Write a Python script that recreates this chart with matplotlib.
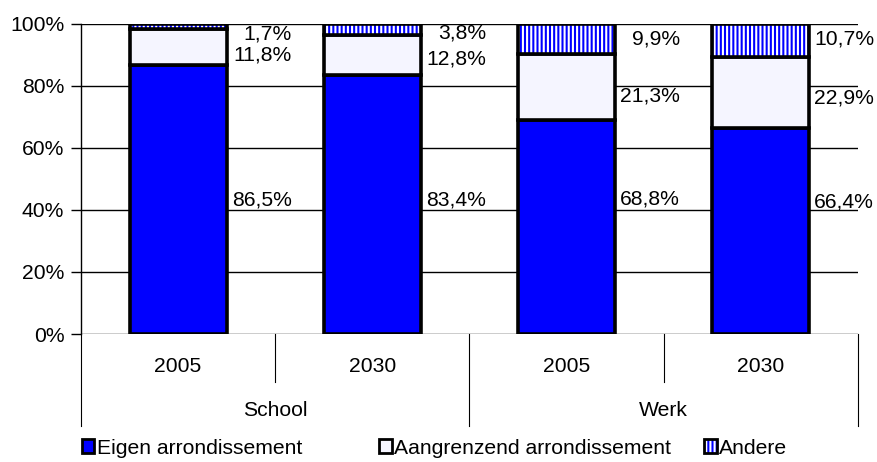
import matplotlib
matplotlib.use("Agg")
import matplotlib.pyplot as plt
from matplotlib.patches import Patch
import numpy as np

plt.rcParams['font.family'] = ['Liberation Sans', 'DejaVu Sans']
plt.rcParams['hatch.linewidth'] = 1.5

# Data
groups = ["School", "Werk"]
years = ["2005", "2030", "2005", "2030"]
eigen = [86.5, 83.4, 68.8, 66.4]
aangrenzend = [11.8, 12.8, 21.3, 22.9]
andere = [1.7, 3.8, 9.9, 10.7]
series_names = ["Eigen arrondissement", "Aangrenzend arrondissement", "Andere"]
yticks = [0, 20, 40, 60, 80, 100]

# Vertical anchor (in %) of each value label, per bar: [eigen, aangrenzend, andere]
label_anchor = [[43.2, 90.0, 96.6],
                [43.2, 88.6, 96.9],
                [43.5, 76.8, 95.0],
                [42.5, 76.0, 95.0]]

BLUE = "#0000FF"
LIGHT = "#F5F5FF"
EDGE_W = 2.6
FS = 15.2

fig = plt.figure(figsize=(8.77, 4.62), dpi=100)
ax = fig.add_axes([0.0924, 0.277, 0.8856, 0.672])

x = np.arange(len(years))
w = 0.5
eig = np.array(eigen)
aan = np.array(aangrenzend)
andr = np.array(andere)

ax.bar(x, eig, w, color=BLUE, edgecolor="black", linewidth=EDGE_W, zorder=3)
ax.bar(x, aan, w, bottom=eig, color=LIGHT, edgecolor="black", linewidth=EDGE_W, zorder=3)
# striped segment: white vertical stripes on blue, then a black outline on top
ax.bar(x, andr, w, bottom=eig + aan, color=BLUE, edgecolor="white", hatch="||||",
       linewidth=0, zorder=3)
ax.bar(x, andr, w, bottom=eig + aan, facecolor="none", edgecolor="black",
       linewidth=EDGE_W, zorder=4)

ax.set_xlim(-0.5, len(years) - 0.5)
ax.set_ylim(0, 100)
ax.set_yticks(yticks)
ax.set_yticklabels([f"{t}%" for t in yticks], fontsize=FS)
ax.tick_params(axis="y", length=7, width=1, color="black", pad=5)
ax.set_xticks([])
for t in yticks:
    ax.axhline(t, color="black", linewidth=1, zorder=1)

for s in ["top", "right", "bottom"]:
    ax.spines[s].set_visible(False)
ax.spines["left"].set_linewidth(1)

# value labels, right-aligned to the right of each bar
for i in range(len(years)):
    vals = [eigen[i], aangrenzend[i], andere[i]]
    for v, ya in zip(vals, label_anchor[i]):
        ax.text(x[i] + 0.585, ya, f"{v:.1f}%".replace(".", ","), ha="right",
                va="center", fontsize=FS, zorder=5)

# category axis: year labels, group labels and separators
trans = ax.get_xaxis_transform()
for i, yr in enumerate(years):
    ax.text(x[i], -0.103, yr, ha="center", va="center", fontsize=FS, transform=trans)
for g, name in enumerate(groups):
    ax.text(2 * g + 0.5, -0.245, name, ha="center", va="center", fontsize=FS, transform=trans)
for xs in [0.5, 2.5]:
    ax.plot([xs, xs], [0, -0.155], color="black", linewidth=0.8, transform=trans, clip_on=False)
for xs in [-0.5, 1.5, 3.5]:
    ax.plot([xs, xs], [0, -0.296], color="black", linewidth=0.8, transform=trans, clip_on=False)

# legend entries
handles = [
    Patch(facecolor=BLUE, edgecolor="black", linewidth=2.0),
    Patch(facecolor=LIGHT, edgecolor="black", linewidth=2.0),
    Patch(facecolor=BLUE, edgecolor="white", hatch="||||", linewidth=0),
]
leg_x = [0.093, 0.432, 0.803]
for h, name, lx in zip(handles, series_names, leg_x):
    if name == "Andere":
        h = (h, Patch(facecolor="none", edgecolor="black", linewidth=2.0))
    leg = fig.legend([h], [name], loc="center left", bbox_to_anchor=(lx, 0.03),
                     frameon=False, fontsize=FS, handlelength=0.6, handleheight=0.6,
                     handletextpad=0.12, borderpad=0, borderaxespad=0)

fig.savefig("out.png", dpi=100)
